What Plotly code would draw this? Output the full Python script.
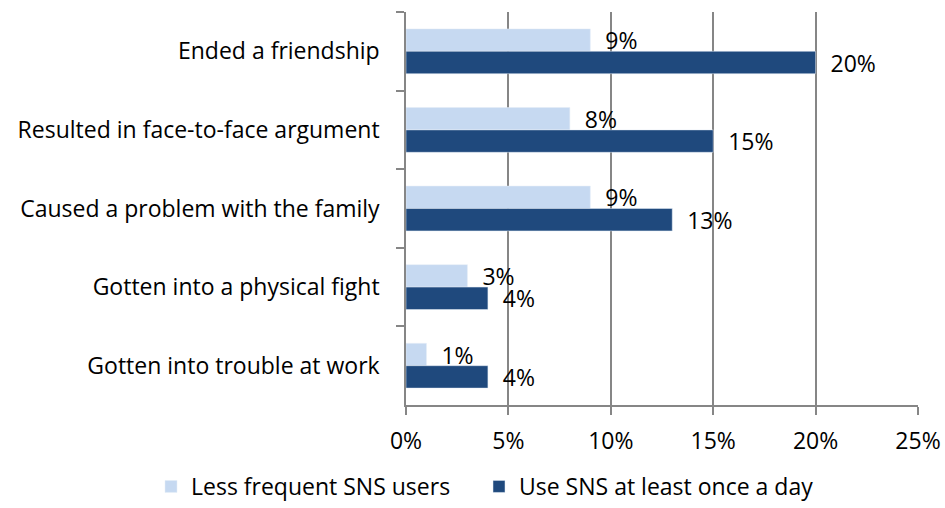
import plotly.graph_objects as go

categories = [
    "Ended a friendship",
    "Resulted in face-to-face argument",
    "Caused a problem with the family",
    "Gotten into a physical fight",
    "Gotten into trouble at work",
]
less_frequent = [9, 8, 9, 3, 1]
daily = [20, 15, 13, 4, 4]
x_ticks = [0, 5, 10, 15, 20, 25]
x_tick_labels = [f"{v}%" for v in x_ticks]

font = dict(family="Open Sans, sans-serif", size=23, color="#000000")
grid = "#868686"

fig = go.Figure()
fig.add_trace(go.Bar(
    y=categories, x=less_frequent, orientation="h",
    name="Less frequent SNS users", marker_color="#C6D9F1",
    text=[f"  {v}%" for v in less_frequent], textposition="outside",
    constraintext="none", cliponaxis=False, legend="legend",
))
fig.add_trace(go.Bar(
    y=categories, x=daily, orientation="h",
    name="Use SNS at least once a day", marker_color="#1F497D",
    text=[f"  {v}%" for v in daily], textposition="outside",
    constraintext="none", cliponaxis=False, legend="legend2",
))

# one legend per series so the two entries sit on one row
legend_style = dict(xref="container", yref="container", xanchor="left",
                    y=0, yanchor="bottom", font=dict(size=23), itemwidth=30,
                    borderwidth=0)

fig.update_layout(
    width=945, height=508,
    margin=dict(l=406, r=27, t=12, b=103, autoexpand=False),
    barmode="group", bargap=0.43, bargroupgap=0,
    plot_bgcolor="white", paper_bgcolor="white",
    font=font,
    legend=dict(x=151 / 945, **legend_style),
    legend2=dict(x=479 / 945, **legend_style),
    showlegend=True,
)
fig.update_xaxes(
    range=[0, 25], tickvals=x_ticks, ticktext=x_tick_labels,
    showgrid=True, gridcolor=grid, gridwidth=1.5,
    showline=True, linecolor=grid, linewidth=1.5,
    ticks="outside", ticklen=8, tickcolor=grid, tickwidth=1.5,
    ticklabelstandoff=7, zeroline=False,
)
fig.update_yaxes(
    autorange="reversed",
    showline=True, linecolor=grid, linewidth=1.5,
    ticks="outside", tickson="boundaries", ticklen=8, tickcolor=grid, tickwidth=1.5,
    ticklabelstandoff=20,
)
fig.update_traces(textfont=dict(size=23, color="#000000"))

# drop the default body margin so the figure fills the window exactly
fig.write_html("out.html", config={"displayModeBar": False},
               post_script="document.body.style.margin='0';")
